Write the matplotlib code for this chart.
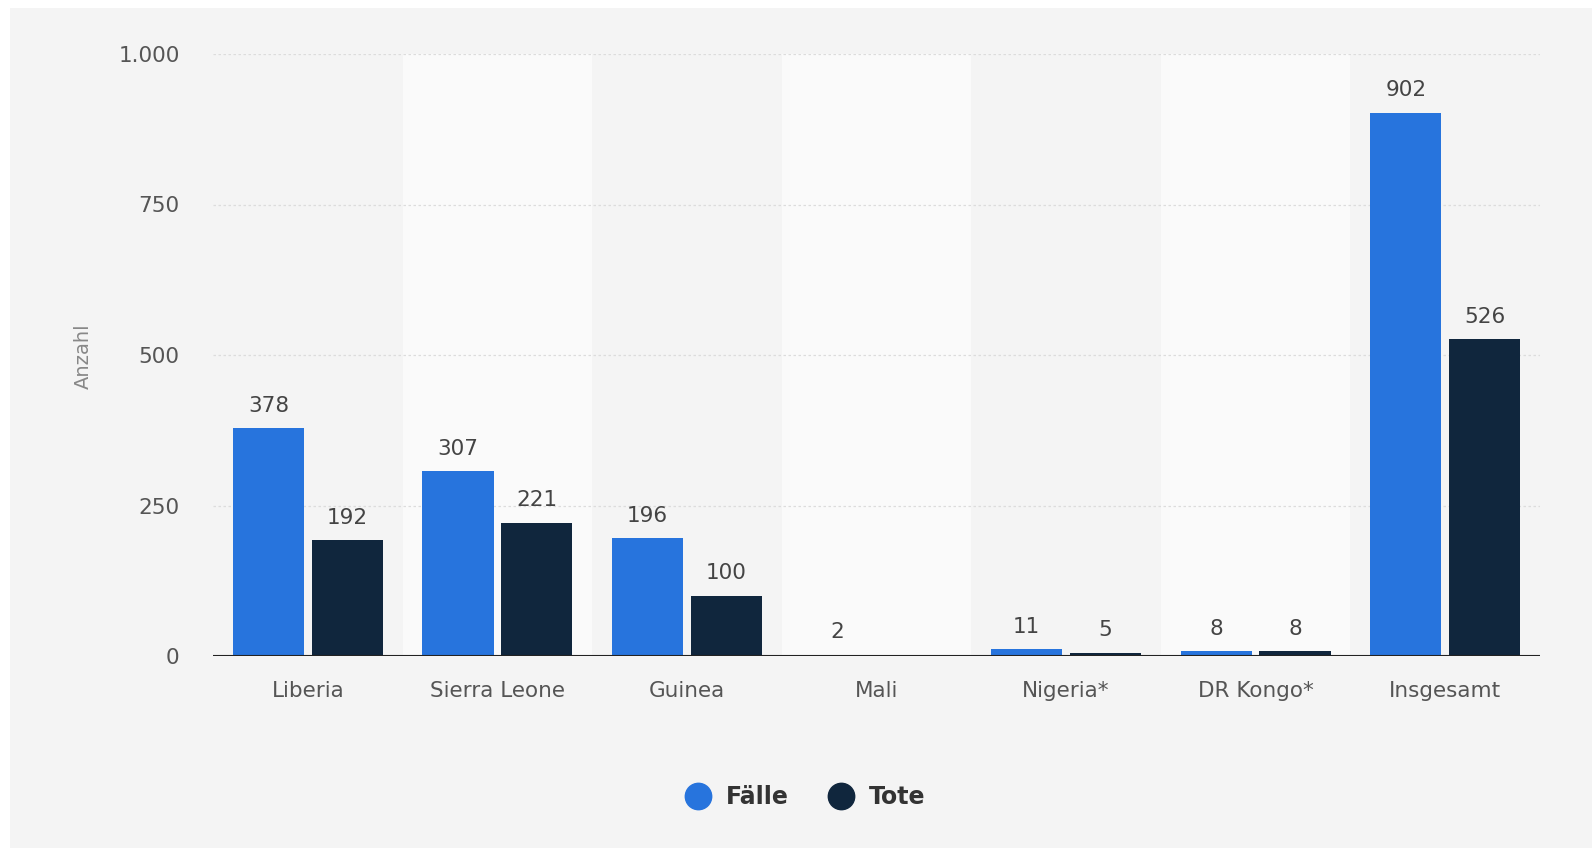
import numpy as np
import matplotlib.pyplot as plt
from matplotlib.lines import Line2D
from matplotlib.patches import Rectangle

# Daten
laender = ['Liberia', 'Sierra Leone', 'Guinea', 'Mali', 'Nigeria*', 'DR Kongo*', 'Insgesamt']
faelle = [378, 307, 196, 2, 11, 8, 902]
tote = [192, 221, 100, np.nan, 5, 8, 526]
yticks = [0, 250, 500, 750, 1000]
ytick_labels = ['0', '250', '500', '750', '1.000']

c_faelle = '#2774dd'
c_tote = '#10263d'
bg = '#f4f4f4'

fig = plt.figure(figsize=(15.92, 8.48), dpi=100)
fig.patch.set_facecolor('white')
fig.patches.append(Rectangle((10/1592, 0), 1, 1 - 8/848, transform=fig.transFigure,
                             facecolor=bg, edgecolor='none', zorder=-10))

ax = fig.add_axes([213/1592, 1 - 656/848, (1540-213)/1592, (656-54)/848])
ax.set_facecolor('none')

x = np.arange(len(laender))
w = 0.375
off = w/2 + 0.02

# helle Streifen
for i in x:
    if i % 2 == 1:
        ax.axvspan(i - 0.5, i + 0.5, color='#fafafa', zorder=0, lw=0)

for y in yticks[1:]:
    ax.axhline(y, color='#dcdcdc', lw=0.9, ls=(0, (2, 2)), zorder=1)

b1 = ax.bar(x - off, faelle, w, color=c_faelle, zorder=3)
b2 = ax.bar(x + off, np.nan_to_num(tote), w, color=c_tote, zorder=3)
ax.axhline(0, color='#222222', lw=1.5, zorder=4)

font = 'DejaVu Sans'
for xi, v in zip(x - off, faelle):
    ax.annotate(str(v), (xi, v), xytext=(0, 9), textcoords='offset points',
                ha='center', va='bottom', fontsize=15.5, color='#444444', family=font)
for xi, v in zip(x + off, tote):
    if np.isnan(v):
        continue
    ax.annotate(str(int(v)), (xi, v), xytext=(0, 9), textcoords='offset points',
                ha='center', va='bottom', fontsize=15.5, color='#444444', family=font)

ax.set_xlim(-0.5, len(laender) - 0.5)
ax.set_ylim(0, 1000)
ax.set_yticks(yticks)
ax.set_yticklabels(ytick_labels, fontsize=15.5, color='#555555', family=font)
ax.set_xticks(x)
ax.set_xticklabels(laender, fontsize=15.5, color='#555555', family=font)
ax.tick_params(axis='both', length=0)
ax.tick_params(axis='y', pad=24)
ax.tick_params(axis='x', pad=18)
for s in ax.spines.values():
    s.set_visible(False)

fig.text(83/1592, 1 - 356/848, 'Anzahl', rotation=90, ha='center', va='center',
         fontsize=14, color='#888888', family=font)

handles = [Line2D([], [], marker='o', ls='', ms=19, color=c_faelle),
           Line2D([], [], marker='o', ls='', ms=19, color=c_tote)]
leg = fig.legend(handles, ['Fälle', 'Tote'], loc='center', bbox_to_anchor=(800/1592, 1 - 797/848),
                 ncol=2, frameon=False, handletextpad=0.2, columnspacing=1.2,
                 prop={'family': 'DejaVu Sans', 'weight': 'bold', 'size': 17})
for t in leg.get_texts():
    t.set_color('#333333')

fig.savefig('out.png', dpi=100, facecolor=fig.get_facecolor())
